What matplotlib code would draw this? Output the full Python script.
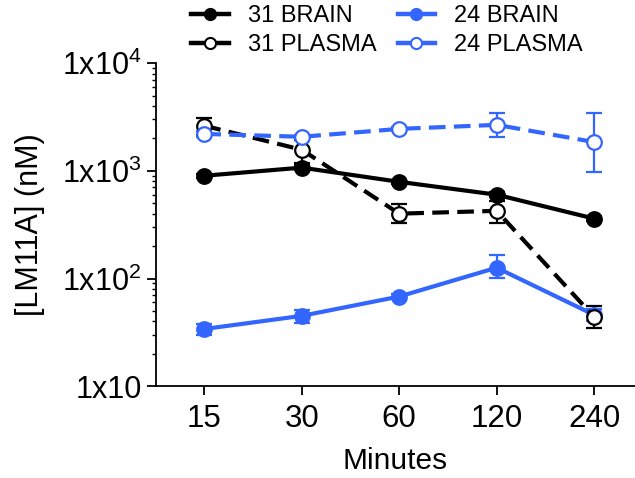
import matplotlib
matplotlib.use("Agg")
import matplotlib.pyplot as plt
from matplotlib.lines import Line2D
import numpy as np

# Values
minutes = ["15", "30", "60", "120", "240"]

brain_31 = [900, 1070, 790, 600, 360]
brain_31_lo = [40, 60, 40, 30, 20]
brain_31_hi = [40, 60, 40, 30, 20]

plasma_31 = [2620, 1570, 400, 425, 44]
plasma_31_lo = [480, 380, 70, 100, 9]
plasma_31_hi = [480, 380, 90, 100, 11]

brain_24 = [34, 45, 68, 126, 46]
brain_24_lo = [4, 6, 4, 24, 6]
brain_24_hi = [4, 6, 4, 38, 6]

plasma_24 = [2200, 2070, 2450, 2670, 1850]
plasma_24_lo = [150, 100, 120, 600, 870]
plasma_24_hi = [150, 100, 120, 790, 1610]

BLUE = "#3366ff"

plt.rcParams["font.family"] = ["Liberation Sans", "DejaVu Sans"]
plt.rcParams["mathtext.fontset"] = "custom"
plt.rcParams["mathtext.rm"] = "Liberation Sans"
plt.rcParams["mathtext.it"] = "Liberation Sans"

fig = plt.figure(figsize=(6.35, 4.78), dpi=100)
ax = fig.add_axes([0.245, 0.192, 0.755, 0.676])

x = np.arange(len(minutes))

series = [
    ("24 BRAIN", brain_24, brain_24_lo, brain_24_hi, BLUE, "-", BLUE),
    ("31 BRAIN", brain_31, brain_31_lo, brain_31_hi, "black", "-", "black"),
    ("31 PLASMA", plasma_31, plasma_31_lo, plasma_31_hi, "black", "--", "white"),
    ("24 PLASMA", plasma_24, plasma_24_lo, plasma_24_hi, BLUE, "--", "white"),
]

handles = {}
for name, vals, lo, hi, col, ls, face in series:
    dash = (4, 2) if ls == "--" else (None, None)
    ax.errorbar(x, vals, yerr=[lo, hi], color=col, ls=ls, lw=3, dashes=dash,
                marker="o", ms=10.5, mfc=face, mec=col, mew=1.6,
                ecolor=col, elinewidth=1.6, capsize=6, capthick=1.6)
    # legend shows a plain solid stub with a smaller marker
    handles[name] = Line2D([], [], color=col, lw=3.2, marker="o", ms=8,
                           mfc=face, mec=col, mew=1.5)

ax.set_yscale("log")
ax.set_ylim(10, 1e4)
ax.set_xlim(-0.5, 4.42)
ax.set_xticks(x)
ax.set_xticklabels(minutes, fontsize=22.5)
ax.set_yticks([10, 100, 1000, 10000])
ax.set_yticklabels(["1x10", "1x10$^2$", "1x10$^3$", "1x10$^4$"], fontsize=22)
ax.tick_params(axis="both", which="major", length=6.5, width=1.3, direction="out")
ax.tick_params(axis="x", which="major", pad=6)
ax.tick_params(axis="y", which="minor", length=3, width=1.0)
ax.tick_params(axis="x", which="minor", bottom=False)

for s in ["top", "right"]:
    ax.spines[s].set_visible(False)
for s in ["left", "bottom"]:
    ax.spines[s].set_linewidth(1.3)

ax.set_xlabel("Minutes", fontsize=21.5, labelpad=10)
ax.set_ylabel("[LM11A] (nM)", fontsize=22, labelpad=12)

order = ["31 BRAIN", "31 PLASMA", "24 BRAIN", "24 PLASMA"]
leg = fig.legend([handles[n] for n in order], order, ncol=2, loc="upper left",
                 bbox_to_anchor=(191 / 635, 1 - 5 / 478), frameon=False,
                 fontsize=17, borderpad=0, borderaxespad=0,
                 handlelength=1.6, columnspacing=0.9, handletextpad=0.8,
                 labelspacing=0.3)

fig.savefig("out.png", dpi=100)
